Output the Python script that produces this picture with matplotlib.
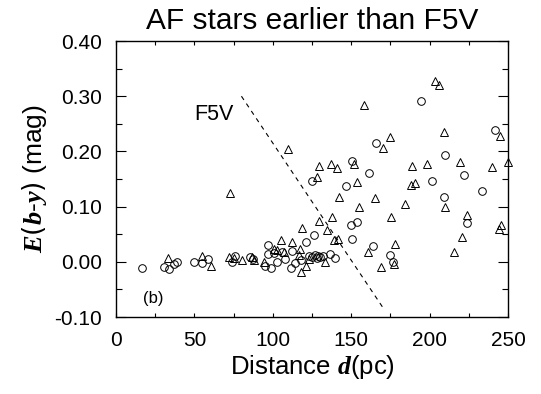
import matplotlib
matplotlib.use('Agg')
import matplotlib.pyplot as plt
from matplotlib.ticker import MultipleLocator

plt.rcParams['font.family'] = ['Liberation Sans', 'DejaVu Sans']
plt.rcParams['mathtext.fontset'] = 'custom'
plt.rcParams['mathtext.it'] = 'Liberation Serif:italic:bold'

# circles
circ_d = [16.6, 30.8, 33.8, 36.8, 39.0, 49.5, 54.8, 58.9, 74.0, 76.0, 85.5, 87.6,
          95.0, 96.7, 97.0, 99.0, 101.0, 102.7, 106.0, 108.0, 111.8, 112.5, 114.0,
          118.0, 121.4, 123.0, 125.0, 126.5, 127.0, 128.0, 129.0, 130.0, 132.0,
          125.2, 136.5, 139.5, 146.7, 150.1, 150.3, 150.5, 153.7, 161.6, 163.8,
          165.6, 174.7, 176.4, 194.3, 201.7, 209.0, 209.6, 222.2, 223.8, 233.4, 241.5]
circ_e = [-0.011, -0.010, -0.013, -0.004, -0.001, -0.001, -0.002, 0.005, 0.000, 0.011, 0.009, 0.005,
          -0.007, 0.030, 0.015, -0.011, 0.016, 0.000, 0.017, 0.006, -0.011, 0.019, -0.002,
          0.004, 0.036, 0.010, 0.008, 0.049, 0.012, 0.007, 0.010, 0.008, 0.011,
          0.146, 0.014, 0.007, 0.137, 0.066, 0.183, 0.041, 0.073, 0.161, 0.029,
          0.216, 0.013, -0.001, 0.292, 0.146, 0.118, 0.194, 0.157, 0.070, 0.129, 0.239]

# triangles
tri_d = [33.0, 54.8, 60.4, 72.0, 72.5, 75.5, 80.6, 86.7, 88.0, 94.6, 101.0, 103.0,
         105.4, 107.0, 110.0, 112.5, 116.5, 117.6, 118.2, 118.4, 121.2, 123.0, 128.2,
         129.7, 129.7, 133.3, 134.4, 137.3, 137.8, 138.8, 140.7, 141.4, 142.2, 151.8,
         153.7, 155.0, 158.2, 160.6, 165.0, 168.8, 170.0, 174.5, 175.6, 177.4, 178.2,
         184.5, 188.0, 189.0, 191.0, 198.5, 203.2, 205.8, 209.2, 209.9, 215.3, 219.4,
         220.4, 223.6, 240.0, 244.5, 244.7, 245.3, 250.0]
tri_e = [0.007, 0.011, -0.008, 0.009, 0.125, 0.007, 0.004, 0.009, 0.004, -0.001, 0.024, 0.021,
         0.039, 0.018, 0.204, 0.035, 0.012, 0.023, -0.019, 0.062, -0.008, 0.005, 0.154,
         0.173, 0.074, -0.001, 0.058, 0.177, 0.082, 0.039, 0.170, 0.041, 0.118, 0.177,
         0.145, 0.100, 0.284, 0.017, 0.116, -0.010, 0.207, 0.226, 0.081, -0.004, 0.033,
         0.105, 0.139, 0.173, 0.142, 0.177, 0.328, 0.320, 0.236, 0.100, 0.017, 0.181,
         0.045, 0.085, 0.172, 0.059, 0.228, 0.067, 0.181]

# F5V limit line
f5v_d = [80.0, 170.0]
f5v_e = [0.30, -0.082]

fig = plt.figure(figsize=(5.41, 3.94), dpi=100)
ax = fig.add_axes([0.2144, 0.1954, 0.7246, 0.7005])

ax.plot(circ_d, circ_e, 'o', mfc='none', mec='black', ms=5.5, mew=0.7, clip_on=False)
ax.plot(tri_d, tri_e, '^', mfc='none', mec='black', ms=6, mew=0.7, clip_on=False)
ax.plot(f5v_d, f5v_e, color='black', lw=0.8, dashes=(4, 4))

ax.text(49.7, 0.266, 'F5V', fontsize=15.5, va='center', ha='left')
ax.text(23.5, -0.066, '(b)', fontsize=12, va='center', ha='center')

ax.set_xlim(0, 250)
ax.set_ylim(-0.10, 0.40)
ax.xaxis.set_major_locator(MultipleLocator(50))
ax.xaxis.set_minor_locator(MultipleLocator(25))
ax.yaxis.set_major_locator(MultipleLocator(0.10))
ax.yaxis.set_minor_locator(MultipleLocator(0.05))
ax.set_yticklabels(['%.2f' % v for v in ax.get_yticks()])
ax.tick_params(which='both', direction='in', top=True, right=True, labelsize=15)
ax.tick_params(axis='x', which='both', length=3, width=0.8, pad=10)
ax.tick_params(axis='y', which='major', length=7, width=0.8, pad=10)
ax.tick_params(axis='y', which='minor', length=4, width=0.8)
for s in ax.spines.values():
    s.set_linewidth(1.0)

ax.set_title('AF stars earlier than F5V', fontsize=21.5, pad=9)
ax.set_xlabel(r'Distance $\mathit{d}$(pc)', fontsize=18.5, labelpad=2)
ax.set_ylabel(r'$\mathit{E(b}$-$\mathit{y)}$ (mag)', fontsize=19, labelpad=4)

fig.savefig('out.png', dpi=100)
